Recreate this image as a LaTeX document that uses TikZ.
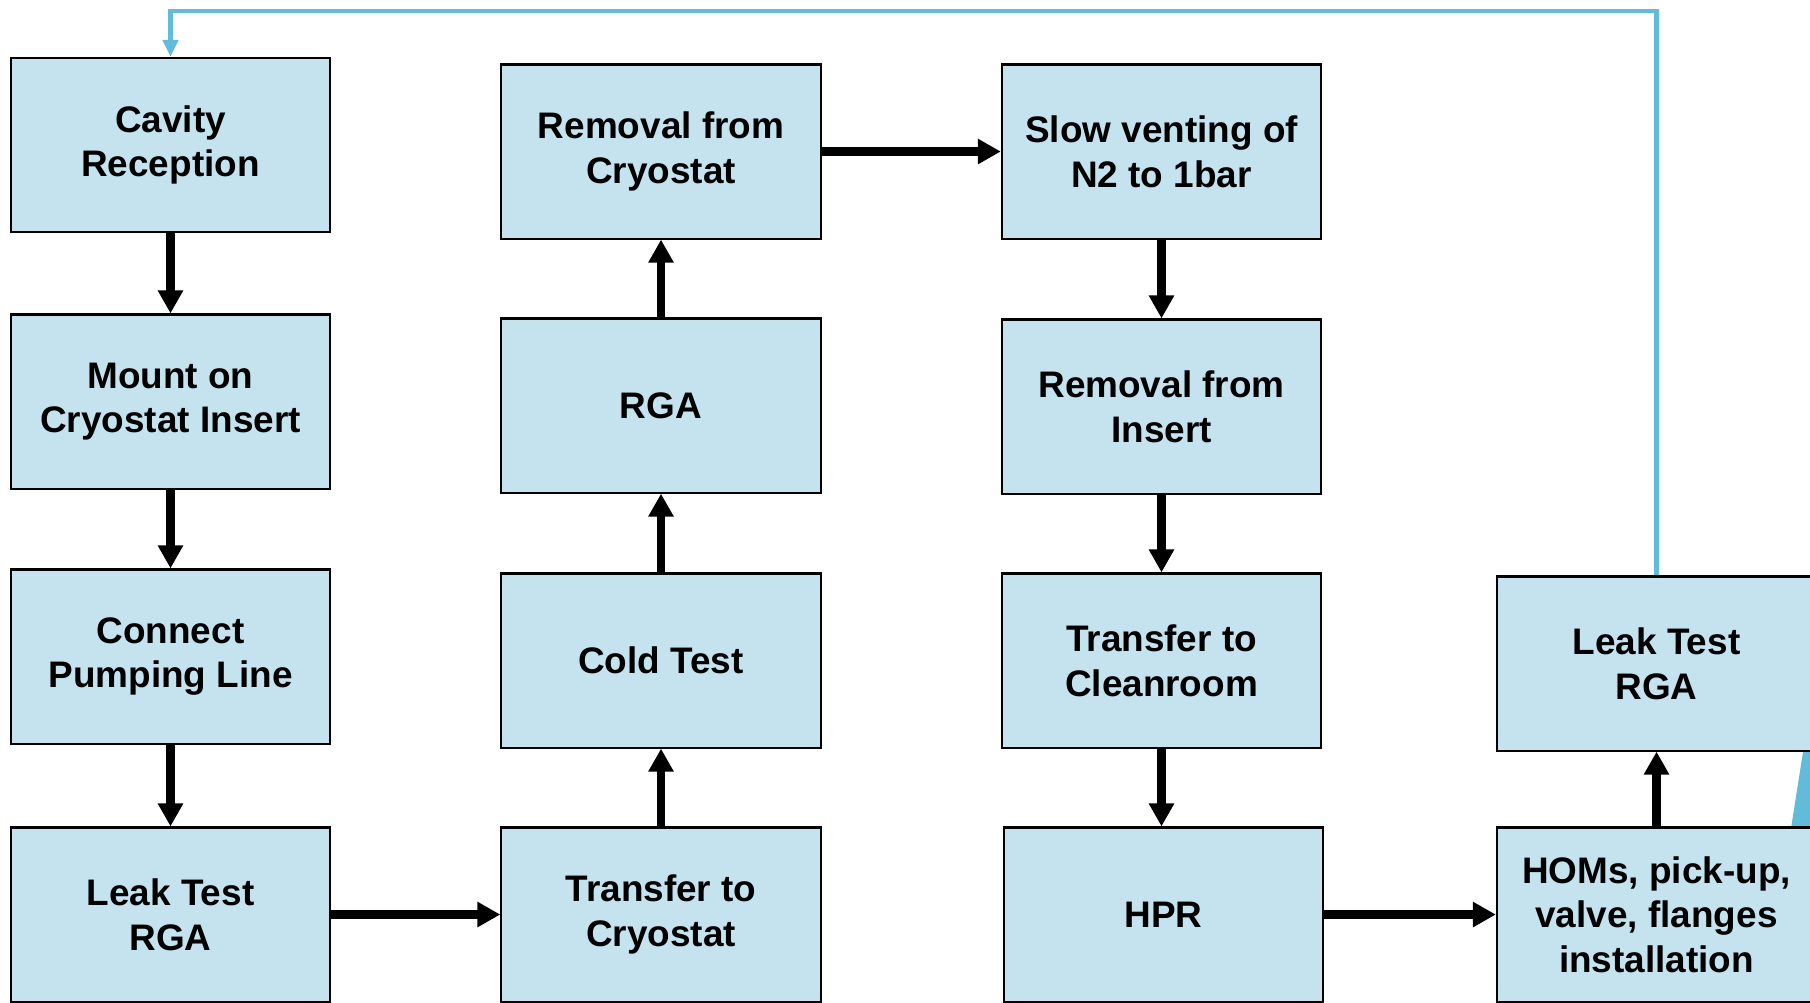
\documentclass[tikz,border=0pt]{standalone}
\usepackage{fontspec}
\setmainfont{Liberation Sans}
\usepackage{xcolor}
\usetikzlibrary{arrows.meta}
\definecolor{boxblue}{HTML}{C4E3EF}
\definecolor{loopblue}{HTML}{62BCD9}

\begin{document}
\begin{tikzpicture}[x=0.01cm, y=-0.01cm,
    stepbox/.style={draw=black, line width=0.6pt, fill=boxblue,
      minimum width=3.19cm, minimum height=1.74cm, align=center,
      font=\fontsize{10.5}{12.7}\selectfont\bfseries},
    flow/.style={line width=2.3pt, -{Triangle[width=0.24cm, length=0.23cm]}}]
      %
      \useasboundingbox (0,0) rectangle (1810,1002);
      \clip (0,0) rectangle (1810,1002);

      % wedge at the right border, behind the boxes
      \fill[loopblue] (1786,860) -- (1808,720) -- (1830,720) -- (1830,860) -- cycle;

      % first column
      \node[stepbox] (cavity)  at (170.5,145)   {Cavity\\Reception};
      \node[stepbox] (mount)   at (170.5,401.5) {Mount on\\Cryostat Insert};
      \node[stepbox] (connect) at (170.5,656.5) {Connect\\Pumping Line};
      \node[stepbox] (leak)    at (170.5,914.5) {Leak Test\\RGA};

      % second column
      \node[stepbox] (removal)  at (661,151.5) {Removal from\\Cryostat};
      \node[stepbox] (rga)      at (661,405.5) {RGA};
      \node[stepbox] (cold)     at (661,660.5) {Cold Test};
      \node[stepbox] (transfer) at (661,914.5) {Transfer to\\Cryostat};

      % third column
      \node[stepbox] (venting)   at (1161.5,151.5) {Slow venting of\\N2 to 1bar};
      \node[stepbox] (insert)    at (1161.5,406.5) {Removal from\\Insert};
      \node[stepbox] (cleanroom) at (1161.5,660.5) {Transfer to\\Cleanroom};
      \node[stepbox] (hpr)       at (1163.5,914.5) {HPR};

      % fourth column
      \node[stepbox] (leakrga) at (1656.5,663.5) {Leak Test\\RGA};
      \node[stepbox] (homs)    at (1656.5,914.5) {HOMs, pick-up,\\valve, flanges\\installation};

      % arrows
      \draw[flow] (cavity) -- (mount);
      \draw[flow] (mount) -- (connect);
      \draw[flow] (connect) -- (leak);
      \draw[flow] (leak) -- (transfer);
      \draw[flow] (transfer) -- (cold);
      \draw[flow] (cold) -- (rga);
      \draw[flow] (rga) -- (removal);
      \draw[flow] (removal) -- (venting);
      \draw[flow] (venting) -- (insert);
      \draw[flow] (insert) -- (cleanroom);
      \draw[flow] (cleanroom.south) -- (cleanroom.south |- hpr.north);
      \draw[flow] (hpr) -- (homs);
      \draw[flow] (homs) -- (leakrga);

      % loop back to the reception
      \coordinate (topright) at (1656.5,11);
      \coordinate (topleft)  at (170.5,11);
      \draw[loopblue, line width=1.2pt, -{Triangle[width=0.15cm, length=0.17cm]}]
        (leakrga.north) -- (topright) -- (topleft) -- (cavity.north);
    \end{tikzpicture}
\end{document}
